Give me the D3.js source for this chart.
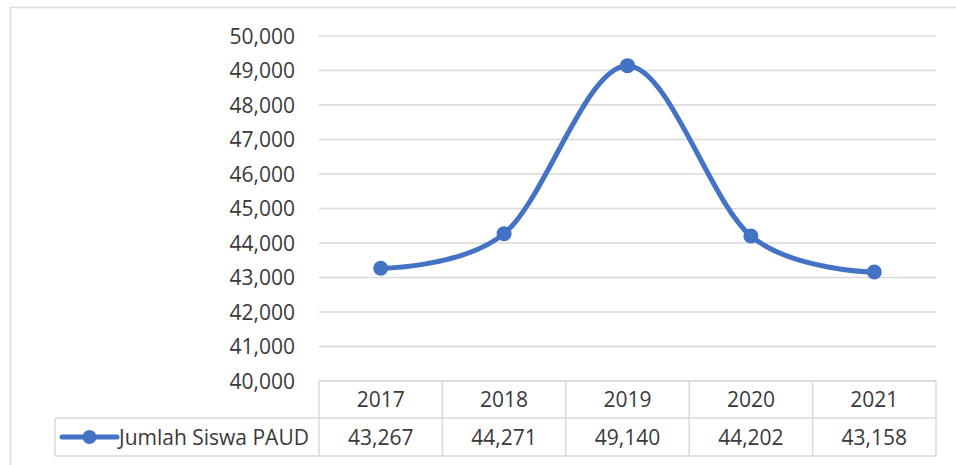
<!DOCTYPE html>
<html>
<head>
<meta charset="utf-8">
<script src="https://cdn.jsdelivr.net/npm/d3@7/dist/d3.min.js"></script>
<style>
  html, body { margin: 0; padding: 0; background: #fff; }
  svg { display: block; font-family: "Open Sans", "Liberation Sans", sans-serif; }
</style>
</head>
<body>
<svg id="chart" width="956" height="465"></svg>
<script>
// Data
const years = ["2017", "2018", "2019", "2020", "2021"];
const siswa = [43267, 44271, 49140, 44202, 43158];
const seriesName = "Jumlah Siswa PAUD";
const yTicks = [40000, 41000, 42000, 43000, 44000, 45000, 46000, 47000, 48000, 49000, 50000];

(function () {
const svg = d3.select("#chart");
const blue = "#4472C4";
const gridColor = "#d9d9d9";
const textColor = "#3a3a3a";
const fontSize = 21;

// Chart frame
svg.append("rect")
  .attr("x", 10.5).attr("y", 7.5)
  .attr("width", 960).attr("height", 470)
  .attr("fill", "none").attr("stroke", gridColor).attr("stroke-width", 1.5);

// Plot area geometry
const plotL = 319, plotR = 936, plotT = 36, plotB = 381;
const x = d3.scaleBand().domain(years).range([plotL, plotR]);
const y = d3.scaleLinear().domain([40000, 50000]).range([plotB, plotT]);
const fmt = d3.format(",");

// Horizontal gridlines
svg.append("g").selectAll("line").data(yTicks).join("line")
  .attr("x1", plotL).attr("x2", plotR)
  .attr("y1", d => y(d)).attr("y2", d => y(d))
  .attr("stroke", gridColor).attr("stroke-width", 1.5);

// Y-axis labels
svg.append("g").selectAll("text").data(yTicks).join("text")
  .attr("x", 295).attr("y", d => y(d))
  .attr("dy", "0.36em")
  .attr("text-anchor", "end")
  .attr("font-size", fontSize).attr("fill", textColor)
  .text(d => fmt(d));

// Data table below the plot
const rowH1 = [381, 418], rowH2 = [418, 456], legendLeft = 55;
const tbl = svg.append("g").attr("stroke", gridColor).attr("stroke-width", 1.5).attr("fill", "none");
tbl.append("line").attr("x1", plotL).attr("x2", plotR).attr("y1", rowH1[0]).attr("y2", rowH1[0]);
tbl.append("line").attr("x1", legendLeft).attr("x2", plotR).attr("y1", rowH2[0]).attr("y2", rowH2[0]);
tbl.append("line").attr("x1", legendLeft).attr("x2", plotR).attr("y1", rowH2[1]).attr("y2", rowH2[1]);
tbl.append("line").attr("x1", legendLeft).attr("x2", legendLeft).attr("y1", rowH2[0]).attr("y2", rowH2[1]);
const vEdges = years.map(d => x(d)).concat([plotR]);
tbl.selectAll("line.v").data(vEdges).join("line").attr("class", "v")
  .attr("x1", d => d).attr("x2", d => d)
  .attr("y1", rowH1[0]).attr("y2", rowH2[1]);

// Header years
svg.append("g").selectAll("text").data(years).join("text")
  .attr("x", d => x(d) + x.bandwidth() / 2)
  .attr("y", (rowH1[0] + rowH1[1]) / 2)
  .attr("dy", "0.36em").attr("text-anchor", "middle")
  .attr("font-size", fontSize).attr("fill", textColor)
  .text(d => d);

// Values row
svg.append("g").selectAll("text").data(siswa).join("text")
  .attr("x", (d, i) => x(years[i]) + x.bandwidth() / 2)
  .attr("y", (rowH2[0] + rowH2[1]) / 2)
  .attr("dy", "0.36em").attr("text-anchor", "middle")
  .attr("font-size", fontSize).attr("fill", textColor)
  .text(d => fmt(d));

// Legend key in the table
const ly = (rowH2[0] + rowH2[1]) / 2;
svg.append("line").attr("x1", 62).attr("x2", 117).attr("y1", ly).attr("y2", ly)
  .attr("stroke", blue).attr("stroke-width", 5).attr("stroke-linecap", "round");
svg.append("circle").attr("cx", 89.5).attr("cy", ly).attr("r", 7).attr("fill", blue);
svg.append("text").attr("x", 119).attr("y", ly).attr("dy", "0.36em")
  .attr("font-size", fontSize).attr("fill", textColor).text(seriesName);

// Smoothed series line
const pts = siswa.map((v, i) => [x(years[i]) + x.bandwidth() / 2, y(v)]);
svg.append("path")
  .attr("d", d3.line().curve(d3.curveCardinal.tension(0))(pts))
  .attr("fill", "none").attr("stroke", blue).attr("stroke-width", 5)
  .attr("stroke-linecap", "round");

// Markers
svg.append("g").selectAll("circle").data(pts).join("circle")
  .attr("cx", d => d[0]).attr("cy", d => d[1]).attr("r", 7.5).attr("fill", blue);
})();
</script>
</body>
</html>
